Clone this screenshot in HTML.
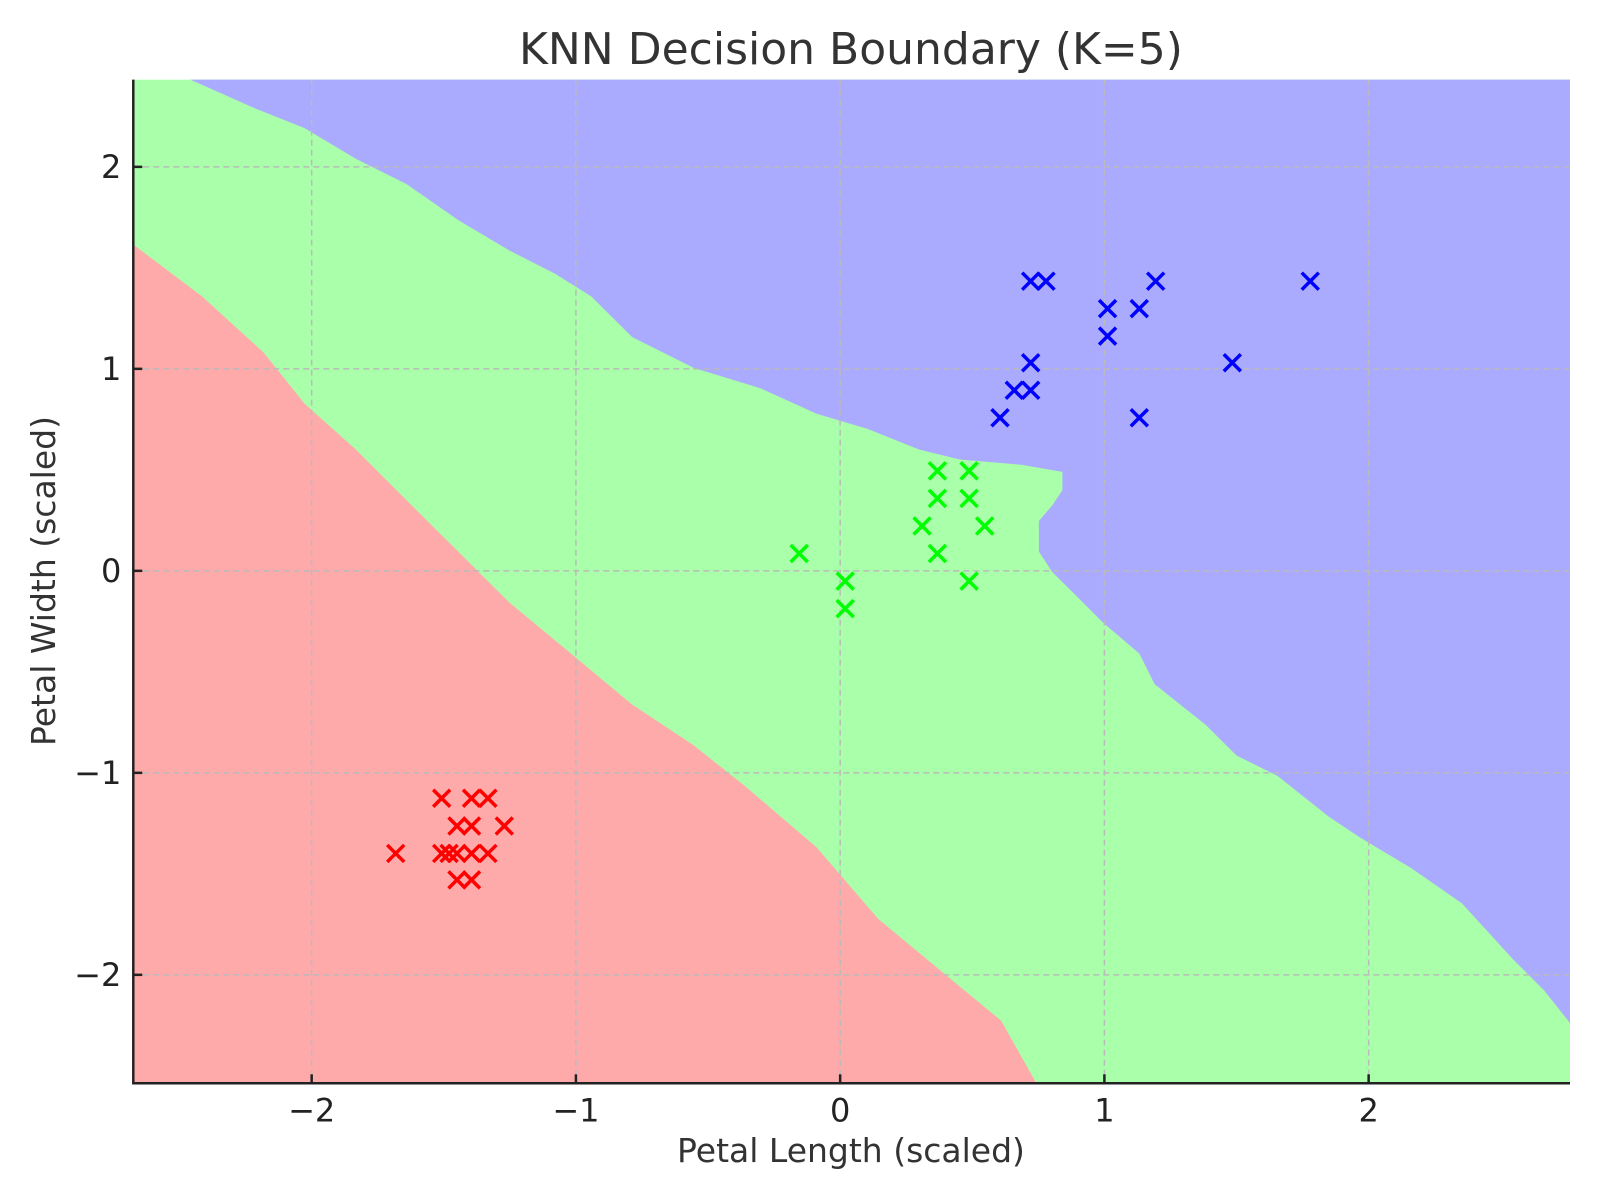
<!DOCTYPE html>
<html><head><meta charset="utf-8"><style>
body{margin:0;background:#fff;}
svg{display:block;font-family:"DejaVu Sans","Liberation Sans",sans-serif;}
</style></head><body>
<svg id="chart" width="1600" height="1200" viewBox="0 0 1600 1200" xmlns="http://www.w3.org/2000/svg"></svg>
<script>
const redBoundaryX=[-2.686,-2.415,-2.182,-2.027,-1.833,-1.640,-1.446,-1.252,-1.019,-0.787,-0.554,-0.360,-0.089,0.143,0.376,0.609,0.744];
const redBoundaryY=[1.626,1.359,1.081,0.828,0.601,0.348,0.096,-0.157,-0.409,-0.662,-0.864,-1.066,-1.369,-1.722,-1.975,-2.227,-2.540];
const blueBoundaryX=[-2.473,-2.221,-2.027,-1.833,-1.640,-1.446,-1.252,-1.078,-0.942,-0.787,-0.554,-0.302,-0.089,0.105,0.298,0.453,0.686,0.841,0.841,0.802,0.752,0.752,0.802,0.919,0.996,1.132,1.190,1.384,1.500,1.655,1.849,1.965,2.159,2.353,2.547,2.663,2.771];
const blueBoundaryY=[2.440,2.293,2.192,2.040,1.914,1.737,1.586,1.470,1.359,1.157,1.005,0.904,0.778,0.702,0.601,0.551,0.525,0.490,0.399,0.323,0.247,0.096,-0.005,-0.157,-0.258,-0.409,-0.561,-0.763,-0.914,-1.015,-1.217,-1.318,-1.470,-1.646,-1.924,-2.076,-2.253];
const redX=[-1.682,-1.508,-1.395,-1.333,-1.450,-1.395,-1.271,-1.508,-1.450,-1.395,-1.333,-1.450,-1.395,-1.480];
const redY=[-1.399,-1.126,-1.126,-1.126,-1.263,-1.263,-1.263,-1.399,-1.399,-1.399,-1.399,-1.530,-1.530,-1.399];
const greenX=[-0.155,0.019,0.019,0.310,0.368,0.488,0.368,0.488,0.547,0.368,0.488];
const greenY=[0.086,-0.051,-0.187,0.222,0.495,0.495,0.359,0.359,0.222,0.086,-0.051];
const blueX=[0.721,0.779,1.194,1.779,1.012,1.132,1.012,0.721,1.484,0.659,0.721,0.605,1.132];
const blueY=[1.434,1.434,1.434,1.434,1.298,1.298,1.162,1.030,1.030,0.894,0.894,0.758,0.758];
const xTicks=[-2,-1,0,1,2];
const yTicks=[-2,-1,0,1,2];
const tickLabels=["\u22122","\u22121","0","1","2"];

const L=133.3,R=1570,T=79.6,B=1083.3;
const xMin=-2.675,xMax=2.762,yMin=-2.537,yMax=2.432;
const sx=v=>L+(v-xMin)/(xMax-xMin)*(R-L);
const sy=v=>B-(v-yMin)/(yMax-yMin)*(B-T);
const svg=document.getElementById('chart');
const NS="http://www.w3.org/2000/svg";
function mk(tag,attrs,parent){const e=document.createElementNS(NS,tag);for(const k in attrs)e.setAttribute(k,attrs[k]);(parent||svg).appendChild(e);return e;}

// clip
const defs=mk('defs',{});
const cp=mk('clipPath',{id:'plotclip'},defs);
mk('rect',{x:L,y:T,width:R-L,height:B-T},cp);
const plot=mk('g',{'clip-path':'url(#plotclip)'});



let bg=mk('rect',{x:L,y:T,width:R-L,height:B-T,fill:'#aaffaa'},plot);


let rp=[];
for(let i=0;i<redBoundaryX.length;i++)rp.push([sx(redBoundaryX[i]),sy(redBoundaryY[i])]);
rp.push([sx(xMin)-5,sy(yMin)+5]);
rp.push([sx(xMin)-5,sy(redBoundaryY[0])]);
let redPoly=mk('polygon',{points:rp.map(p=>p.join(',')).join(' '),fill:'#ffaaaa'},plot);


let bp=[[sx(blueBoundaryX[0]),sy(yMax)-5]];
for(let i=0;i<blueBoundaryX.length;i++)bp.push([sx(blueBoundaryX[i]),sy(blueBoundaryY[i])]);
bp.push([sx(xMax)+5,sy(blueBoundaryY[blueBoundaryY.length-1])]);
bp.push([sx(xMax)+5,sy(yMax)-5]);
let bluePoly=mk('polygon',{points:bp.map(p=>p.join(',')).join(' '),fill:'#aaaaff'},plot);



// grid
xTicks.forEach(v=>{let g=mk('line',{x1:sx(v),x2:sx(v),y1:T,y2:B,stroke:'#bbbbbb','stroke-width':1.5,'stroke-dasharray':'6,4'});

});
yTicks.forEach(v=>{let g=mk('line',{x1:L,x2:R,y1:sy(v),y2:sy(v),stroke:'#bbbbbb','stroke-width':1.5,'stroke-dasharray':'6,4'});

});

// markers
function marks(xs,ys,color,name){for(let i=0;i<xs.length;i++){const cx=sx(xs[i]),cy=sy(ys[i]),d=8.5;
const g=mk('path',{d:`M${cx-d},${cy-d}L${cx+d},${cy+d}M${cx-d},${cy+d}L${cx+d},${cy-d}`,stroke:color,'stroke-width':3.5,fill:'none'});

}}
marks(redX,redY,'#ff0000','red-point');
marks(greenX,greenY,'#00ff00','green-point');
marks(blueX,blueY,'#0000ff','blue-point');

// axes
let ax=mk('path',{d:`M${L},${T}L${L},${B}L${R},${B}`,stroke:'#222',fill:'none','stroke-width':2.5});


xTicks.forEach((v,i)=>{mk('line',{x1:sx(v),x2:sx(v),y1:B,y2:B-9,stroke:'#222','stroke-width':2.5});
let t=mk('text',{x:sx(v),y:B+38,'text-anchor':'middle','font-size':32,fill:'#222'});t.textContent=tickLabels[i];

});
yTicks.forEach((v,i)=>{mk('line',{x1:L,x2:L+9,y1:sy(v),y2:sy(v),stroke:'#222','stroke-width':2.5});
let t=mk('text',{x:L-12,y:sy(v)+11,'text-anchor':'end','font-size':32,fill:'#222'});t.textContent=tickLabels[i];

});

let title=mk('text',{x:851,y:64,'text-anchor':'middle','font-size':44,fill:'#333'});title.textContent='KNN Decision Boundary (K=5)';


let xl=mk('text',{x:851,y:1162,'text-anchor':'middle','font-size':33,fill:'#333'});xl.textContent='Petal Length (scaled)';


let yl=mk('text',{x:0,y:0,'text-anchor':'middle','font-size':33,fill:'#333',transform:'translate(55,581) rotate(-90)'});yl.textContent='Petal Width (scaled)';


</script>
</body></html>
